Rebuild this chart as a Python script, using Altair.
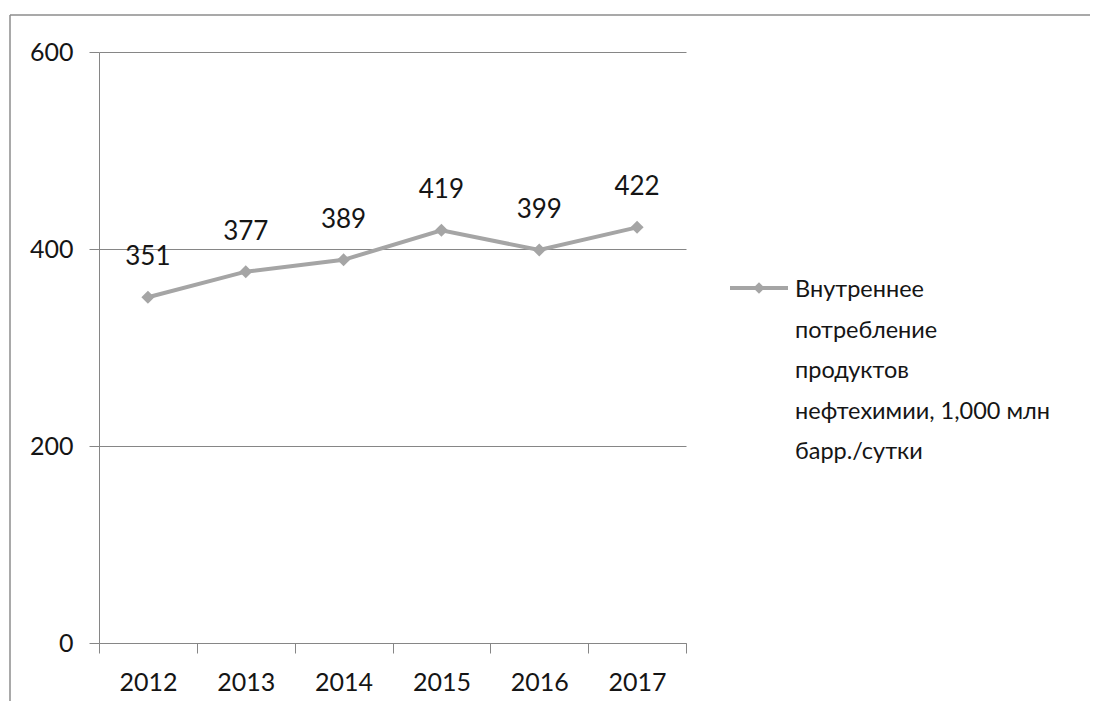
import altair as alt
import pandas as pd

years = ["2012", "2013", "2014", "2015", "2016", "2017"]
values = [351, 377, 389, 419, 399, 422]
series_name = "Внутреннее\nпотребление\nпродуктов\nнефтехимии,  1,000 млн\nбарр./сутки"
y_ticks = [0, 200, 400, 600]

df = pd.DataFrame({"year": years, "value": values})

FONT = "Lato, Open Sans, sans-serif"
GRAY_AXIS = "#868686"
LINE_COLOR = "#A5A5A5"
TXT = "#151515"

W, H = 587, 591

x_enc = alt.X("year:N", sort=years,
              scale=alt.Scale(paddingInner=0, paddingOuter=0),
              axis=alt.Axis(title=None, labelAngle=0, tickBand="extent",
                            tickSize=10, tickColor=GRAY_AXIS, domainColor=GRAY_AXIS,
                            labelFontSize=25, labelFont=FONT, labelColor=TXT,
                            labelPadding=17, grid=False))
y_enc = alt.Y("value:Q",
              scale=alt.Scale(domain=[0, 600], nice=False),
              axis=alt.Axis(title=None, values=y_ticks, tickSize=10,
                            tickColor=GRAY_AXIS, domainColor=GRAY_AXIS,
                            gridColor=GRAY_AXIS, grid=True,
                            labelFontSize=25, labelFont=FONT, labelColor=TXT,
                            labelPadding=16))

base = alt.Chart(df)

line = base.mark_line(color=LINE_COLOR, strokeWidth=4).encode(x=x_enc, y=y_enc)
pts = base.mark_point(shape="diamond", filled=True, size=170, color=LINE_COLOR,
                      opacity=1).encode(x=x_enc, y=y_enc)
labels = base.mark_text(dy=-32, fontSize=26, font=FONT, color=TXT,
                        baseline="alphabetic").encode(
    x=x_enc, y=y_enc, text=alt.Text("value:Q"))

# frame lines around the chart
frame_top = alt.Chart(pd.DataFrame({"a": [0]})).mark_rule(
    color="#8C8C8C", strokeWidth=1.5).encode(
    x=alt.value(-89), x2=alt.value(1010), y=alt.value(-37))
frame_left = alt.Chart(pd.DataFrame({"a": [0]})).mark_rule(
    color="#8C8C8C", strokeWidth=1.5).encode(
    x=alt.value(-89), y=alt.value(-37), y2=alt.value(700))

# manual legend
leg_df = pd.DataFrame({"name": [series_name]})
leg_line = alt.Chart(leg_df).mark_rule(color=LINE_COLOR, strokeWidth=4).encode(
    x=alt.value(631), x2=alt.value(689), y=alt.value(236))
leg_pt = alt.Chart(leg_df).mark_point(shape="diamond", filled=True, size=130,
                                      color=LINE_COLOR, opacity=1).encode(
    x=alt.value(660), y=alt.value(236))
leg_text = alt.Chart(leg_df).mark_text(
    align="left", baseline="alphabetic", fontSize=23.5, font=FONT,
    color=TXT, lineBreak="\n", lineHeight=40.5).encode(
    x=alt.value(696), y=alt.value(245), text="name:N")

chart = alt.layer(frame_top, frame_left, line, pts, labels,
                  leg_line, leg_pt, leg_text).properties(
    width=W, height=H,
    autosize=alt.AutoSizeParams(type="none"),
    padding={"left": 91, "top": 44, "right": 404, "bottom": 58},
    background="white",
).configure_view(stroke="transparent")

chart.save("out.html", embed_options={"renderer": "svg", "actions": False})
